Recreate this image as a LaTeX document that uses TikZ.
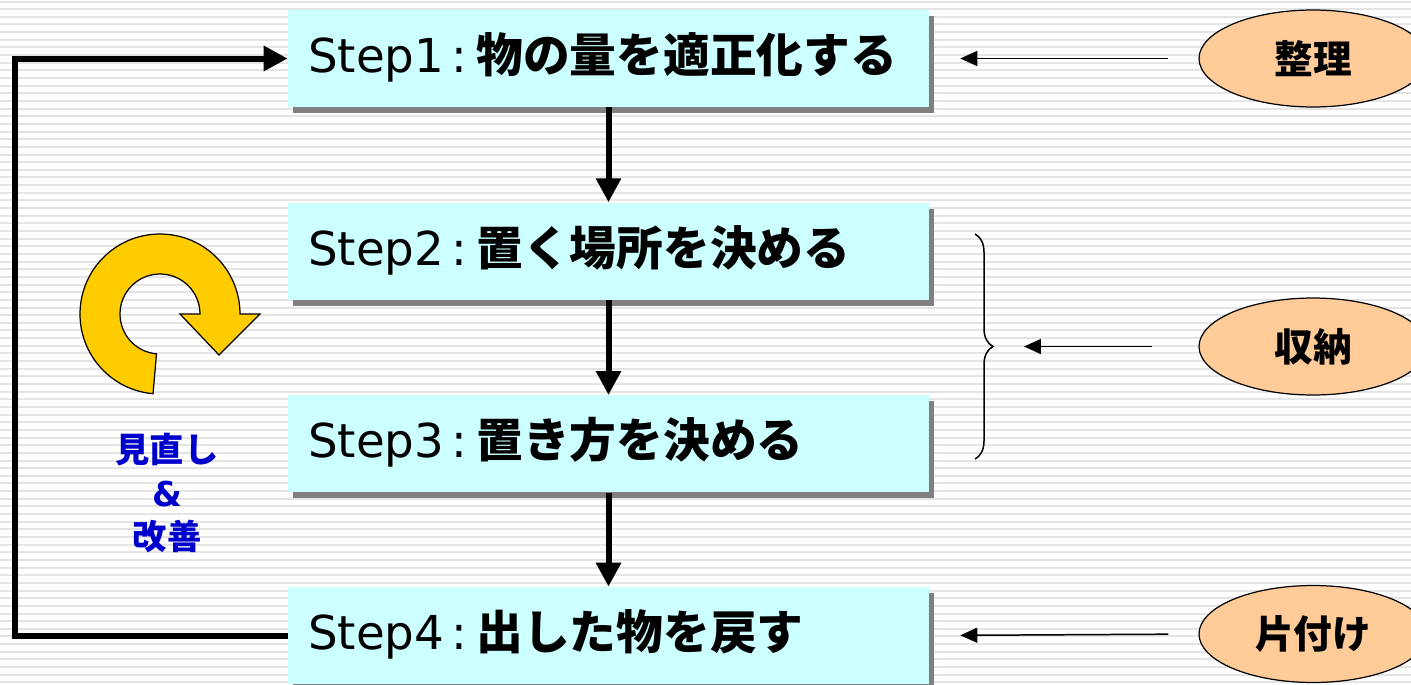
\documentclass[tikz,border=0pt]{standalone}
\usepackage{fontspec}
\setmainfont{DejaVu Sans}
\newfontfamily\jp{Noto Sans CJK JP}
\usetikzlibrary{arrows.meta,shapes.geometric,shadows,decorations.pathreplacing,positioning}

\definecolor{boxcyan}{HTML}{CCFFFF}
\definecolor{shadowgray}{HTML}{808080}
\definecolor{ovalfill}{HTML}{FFCC99}
\definecolor{loopyellow}{HTML}{FFCC00}
\definecolor{textblue}{HTML}{0000CC}
\definecolor{stripegray}{HTML}{E4E4E4}

\begin{document}
\begin{tikzpicture}[x=0.02cm,y=-0.02cm,
    stepbox/.style={fill=boxcyan,
        minimum width=12.82cm,
        minimum height=1.94cm,
        text width=12.02cm, inner xsep=0.4cm, inner ysep=0pt, align=left,
        text height=22pt, text depth=6pt,
        font=\fontsize{26.6pt}{30pt}\selectfont,
        drop shadow={shadow xshift=0.1cm, shadow yshift=-0.12cm, fill=shadowgray, opacity=1}},
    oval/.style={ellipse, draw, line width=0.7pt, fill=ovalfill,
        minimum width=4.56cm, minimum height=1.94cm, inner sep=0pt,
        font=\jp\bfseries\fontsize{22pt}{26pt}\selectfont},
    thickarrow/.style={line width=0.12cm, -{Triangle[length=0.48cm,width=0.48cm]}},
    thinarrow/.style={line width=0.85pt, -{Triangle[length=0.34cm,width=0.3cm]}},
]
        % background
        \useasboundingbox (0,0) rectangle (1411,684);
        \fill[white] (0,0) rectangle (1411,684);
        \foreach \i in {0,...,89}
            \fill[stripegray] (0,{0.5+\i*7.65}) rectangle (1411,{2.5+\i*7.65});

        % steps
        \node [stepbox] (s1) at (608.5,58.5) {Step1\,:\hspace{5pt}{\jp\bfseries 物の量を適正化する}};
        \node [stepbox, below=1.9cm of s1] (s2) {Step2\,:\hspace{5pt}{\jp\bfseries 置く場所を決める}};
        \node [stepbox, below=1.9cm of s2] (s3) {Step3\,:\hspace{5pt}{\jp\bfseries 置き方を決める}};
        \node [stepbox, below=1.88cm of s3] (s4) {Step4\,:\hspace{5pt}{\jp\bfseries 出した物を戻す}};

        \draw[thickarrow] (s1.south)--(s2.north);
        \draw[thickarrow] (s2.south)--(s3.north);
        \draw[thickarrow] (s3.south)--(s4.north);

        % loop back
        \coordinate (lx) at (15,346);
        \draw[thickarrow] (s4.west) -| (lx) |- (s1.west);

        % ovals
        \node [oval] (k1) at (1313,58.5) {整理};
        \node [oval] (k2) at (1313,346.5) {収納};
        \node [oval] (k3) at (1313,634) {片付け};

        % brace
        \coordinate (bt) at (975,234);
        \coordinate (bb) at (975,459);
        \coordinate (bm) at (993,346.5);
        \draw[decorate, decoration={brace, amplitude=0.36cm}, line width=0.85pt] (bt)--(bb);

        \draw[thinarrow, shorten <=0.6cm, shorten >=0.62cm] (k1.west)--(s1.east);
        \draw[thinarrow, shorten <=0.92cm, shorten >=0.62cm] (k2.west)--(bm);
        \draw[thinarrow, shorten <=0.6cm, shorten >=0.62cm] (k3.west)--(s4.east);

        % circular arrow
        \begin{scope}[shift={(160,314)}, x=0.02cm, y=0.02cm]
            \filldraw[fill=loopyellow, draw=black, line width=0.7pt]
                (265:80) arc[start angle=265, end angle=0, radius=80]
                -- (100,0) -- (59,-41) -- (20,0) -- (40,0)
                arc[start angle=0, end angle=265, radius=40] -- cycle;
        \end{scope}

        % review text
        \node [text=textblue, align=center,
            font=\bfseries\fontsize{19.5pt}{25pt}\selectfont] (fix) at (167,493)
            {{\jp 見直し}\\\&\\{\jp 改善}};
\end{tikzpicture}
\end{document}
